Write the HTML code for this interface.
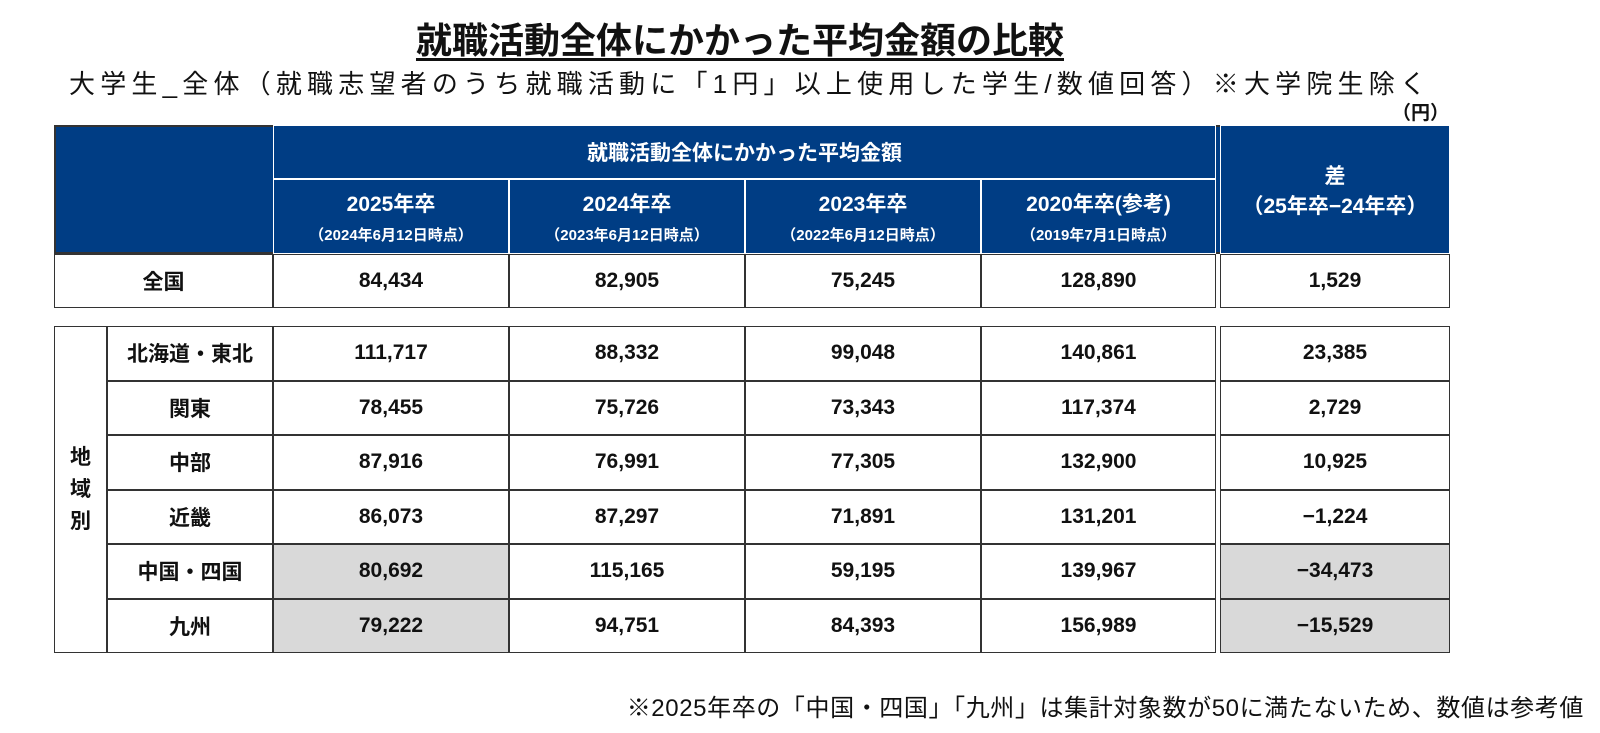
<!DOCTYPE html>
<html><head><meta charset="utf-8"><style>
body{margin:0;width:1600px;height:733px;background:#fff;position:relative;overflow:hidden;font-family:"Liberation Sans","Noto Sans CJK JP",sans-serif;color:#111}
.a{position:absolute;box-sizing:border-box}
.c{position:absolute;box-sizing:border-box;display:flex;align-items:center;justify-content:center;text-align:center;font-size:21px;font-weight:bold;border:1.5px solid #333}
.h{background:#003d84;color:#fff;border-color:#fff}
.g{background:#d9d9d9}
.sub{font-size:15px;display:block;margin-top:6px}
</style></head><body>
<div class="a" style="left:0;width:1480px;top:12px;text-align:center;font-size:36px;font-weight:bold;text-decoration:underline;text-underline-offset:5px">就職活動全体にかかった平均金額の比較</div>
<div class="a" style="left:69px;top:64px;font-size:26px;letter-spacing:5.2px;white-space:nowrap">大学生_全体（就職志望者のうち就職活動に「1円」以上使用した学生/数値回答）※大学院生除く</div>
<div class="a" style="left:1392px;top:98px;font-size:19px;font-weight:bold">（円）</div>
<div class="a" style="left:54px;top:125px;width:1396px;height:129px;background:#003d84;border:2px solid #333"></div>
<div id="t"></div>
<div class="a" style="right:16px;top:688px;font-size:24px;letter-spacing:0.6px;white-space:nowrap">※2025年卒の「中国・四国」「九州」は集計対象数が50に満たないため、数値は参考値</div>
<script>
const cols=[54,273,509,745,981,1216,1450];
const years=["2025年卒","2024年卒","2023年卒","2020年卒(参考)"];
const dates=["（2024年6月12日時点）","（2023年6月12日時点）","（2022年6月12日時点）","（2019年7月1日時点）"];
const regions=["北海道・東北","関東","中部","近畿","中国・四国","九州"];
const nat=["84,434","82,905","75,245","128,890","1,529"];
const vals=[["111,717","88,332","99,048","140,861","23,385"],["78,455","75,726","73,343","117,374","2,729"],["87,916","76,991","77,305","132,900","10,925"],["86,073","87,297","71,891","131,201","-1,224"],["80,692","115,165","59,195","139,967","-34,473"],["79,222","94,751","84,393","156,989","-15,529"]];
const t=document.getElementById('t');
function cell(x,y,w,h,html,cls,name){const d=document.createElement('div');d.className='c '+(cls||'');d.style.cssText=`left:${x}px;top:${y}px;width:${w}px;height:${h}px`;d.innerHTML=html;


t.appendChild(d);}
cell(cols[1],125,cols[5]-cols[1],54,'就職活動全体にかかった平均金額','h','header-group');
for(let i=0;i<4;i++)cell(cols[i+1],179,cols[i+2]-cols[i+1],75,`<div>${years[i]}<span class="sub">${dates[i]}</span></div>`,'h','header-year');
cell(cols[5]+4,125,cols[6]-cols[5]-4,129,'<div>差<br>（25年卒−24年卒）</div>','h','header-diff');
cell(cols[0],254,cols[1]-cols[0],54,'全国','','row-label-national');
for(let i=0;i<5;i++)cell(i==4?cols[5]+4:cols[i+1],254,(i==4?cols[6]-cols[5]-4:cols[i+2]-cols[i+1]),54,nat[i],'','national-value');
const top0=326,rh=54.5;
cell(cols[0],top0,53,rh*6,'<div style="line-height:32px">地<br>域<br>別</div>','','region-group-label');
regions.forEach((r,j)=>{const y=top0+j*rh;
cell(107,y,cols[1]-107,rh,r,'','region-label');
vals[j].forEach((v,i)=>{const g=(j>=4&&(i==0||i==4))?'g':'';
cell(i==4?cols[5]+4:cols[i+1],y,(i==4?cols[6]-cols[5]-4:cols[i+2]-cols[i+1]),rh,v.replace('-','−'),g,'region-value');});});
</script>
</body></html>
